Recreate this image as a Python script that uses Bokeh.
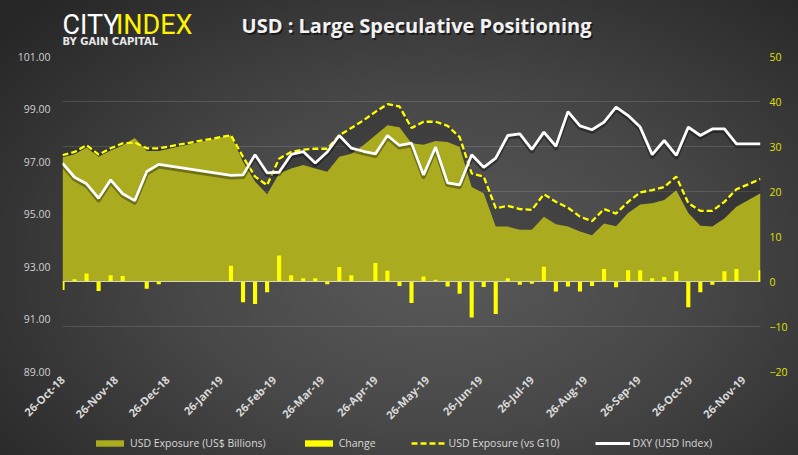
import numpy as np
import pandas as pd
from bokeh.plotting import figure
from bokeh.layouts import column
from bokeh.models import (Range1d, LinearAxis, FixedTicker, Grid, Span, Label, Legend,
                          LegendItem, DatetimeTickFormatter, PrintfTickFormatter, ColumnDataSource)
from bokeh.embed import file_html
from bokeh.resources import INLINE

# ---------------- data ----------------
dates = ["2018-10-26", "2018-11-02", "2018-11-09", "2018-11-16", "2018-11-23", "2018-11-30",
         "2018-12-07", "2018-12-14", "2018-12-21",
         "2019-02-01", "2019-02-08", "2019-02-15", "2019-02-22", "2019-03-01", "2019-03-08",
         "2019-03-15", "2019-03-22", "2019-03-29", "2019-04-05", "2019-04-12", "2019-04-19",
         "2019-04-26", "2019-05-03", "2019-05-10", "2019-05-17", "2019-05-24", "2019-05-31",
         "2019-06-07", "2019-06-14", "2019-06-21", "2019-06-28", "2019-07-05", "2019-07-12",
         "2019-07-19", "2019-07-26", "2019-08-02", "2019-08-09", "2019-08-16", "2019-08-23",
         "2019-08-30", "2019-09-06", "2019-09-13", "2019-09-20", "2019-09-27", "2019-10-04",
         "2019-10-11", "2019-10-18", "2019-10-25", "2019-11-01", "2019-11-08", "2019-11-15",
         "2019-11-22", "2019-11-29", "2019-12-06"]

usd_exposure_bn = [27.6, 28.3, 29.8, 27.7, 29.1, 30.2, 31.9, 29.0, 29.0,
                   32.5, 26.6, 22.2, 19.4, 24.0, 25.1, 25.9, 25.1, 24.4, 27.7, 28.4, 30.3,
                   32.5, 34.7, 34.3, 30.7, 30.4, 31.2, 31.0, 29.9, 21.0, 19.6, 12.2, 12.2,
                   11.5, 11.5, 14.4, 12.7, 12.2, 11.1, 10.3, 12.9, 12.3, 15.2, 17.1, 17.4,
                   18.1, 20.3, 15.2, 12.4, 12.2, 14.0, 16.6, 18.1, 19.6]

change = [-1.9, 0.5, 1.8, -2.1, 1.4, 1.2, 0.0, -1.6, -0.6,
          3.5, -4.6, -5.0, -2.4, 5.8, 1.4, 0.7, 0.7, -0.6, 3.2, 1.4, 0.0,
          4.1, 2.4, -1.0, -4.8, 1.1, 0.4, -1.1, -2.7, -8.0, -1.2, -7.2, 0.7,
          -0.7, -0.5, 3.3, -2.2, -1.1, -2.2, -1.0, 2.8, -1.3, 2.5, 2.5, 0.7,
          1.0, 2.3, -5.7, -2.4, -0.7, 2.3, 2.8, 0.0, 2.5]

usd_exposure_g10 = [28.1, 28.8, 30.3, 28.2, 29.6, 30.7, 30.9, 29.6, 29.6,
                    32.5, 27.7, 23.3, 21.4, 27.3, 28.8, 29.3, 29.5, 29.5, 32.5, 34.1, 35.8,
                    37.7, 39.4, 38.9, 34.1, 35.5, 35.5, 34.6, 32.1, 24.0, 23.3, 16.3, 16.8,
                    16.1, 15.9, 19.4, 17.7, 16.4, 14.4, 13.4, 16.1, 15.1, 17.7, 19.8, 20.3,
                    21.0, 23.3, 17.4, 15.7, 15.7, 17.7, 20.5, 21.6, 22.8]

dxy = [96.94, 96.40, 96.15, 95.60, 96.30, 95.77, 95.51, 96.62, 96.89,
       96.47, 96.49, 97.26, 96.57, 96.59, 97.27, 97.38, 96.94, 97.36, 97.99, 97.51, 97.39,
       97.29, 97.99, 97.61, 97.70, 96.49, 97.55, 96.19, 96.11, 97.26, 96.78, 97.13, 97.99,
       98.05, 97.46, 98.12, 97.58, 98.90, 98.36, 98.21, 98.50, 99.07, 98.75, 98.31, 97.26,
       97.80, 97.23, 98.31, 97.99, 98.24, 98.24, 97.67, 97.67, 97.67]

tick_dates = ["2018-10-26", "2018-11-26", "2018-12-26", "2019-01-26", "2019-02-26",
              "2019-03-26", "2019-04-26", "2019-05-26", "2019-06-26", "2019-07-26",
              "2019-08-26", "2019-09-26", "2019-10-26", "2019-11-26"]
left_ticks = [89, 91, 93, 95, 97, 99, 101]
right_ticks = [-20, -10, 0, 10, 20, 30, 40, 50]

series_names = ["USD Exposure (US$ Billions)", "Change", "USD Exposure (vs G10)", "DXY (USD Index)"]
title_text = "USD : Large Speculative Positioning"


def ms(d):
    return pd.Timestamp(d).value / 1e6


DAY = 86400000.0
x = [ms(d) for d in dates]
src = ColumnDataSource(dict(
    x=x,
    exposure=usd_exposure_bn,
    change=change,
    g10=usd_exposure_g10,
    dxy=dxy,
    dxy_shadow=list(np.array(dxy) - 0.07),
))

FONT = "Open Sans"
W = 798
BL, BR = 62, 38
AREA_COL = "#abab1f"
BAR_COL = "#ffff00"
DASH = dict(line_color="#ffff00", line_width=2.3, line_dash="6 3")
WHITE = dict(line_color="white", line_width=2.8)


def bare_fig(h, xr, yr):
    f = figure(width=W, height=h, x_range=xr, y_range=yr,
               output_backend="svg", toolbar_location=None, title=None,
               x_axis_location=None, y_axis_location=None,
               min_border_left=BL, min_border_right=BR, min_border_top=0, min_border_bottom=0,
               background_fill_alpha=0, border_fill_alpha=0, outline_line_color=None)
    f.xgrid.visible = False
    f.ygrid.visible = False
    return f


# ---------------- header (logo + title) ----------------
HEAD_H = 46
head = bare_fig(HEAD_H, Range1d(0, 1), Range1d(0, 1))
TX, TY = 354, 21
head.add_layout(Label(x=TX + 1.5, y=TY - 1.5, x_units="screen", y_units="screen", text=title_text,
                      text_align="center", text_baseline="alphabetic", text_color="black",
                      text_alpha=0.55, text_font=FONT, text_font_style="bold",
                      text_font_size="20px"))
head.add_layout(Label(x=TX, y=TY, x_units="screen", y_units="screen", text=title_text,
                      text_align="center", text_baseline="alphabetic", text_color="#f2f2f2",
                      text_font=FONT, text_font_style="bold", text_font_size="20px"))
head.add_layout(Label(x=0, y=22, x_units="screen", y_units="screen", text="CITY",
                      text_align="left", text_baseline="alphabetic", text_color="white",
                      text_font="Roboto", text_font_size="27px"))
head.add_layout(Label(x=130, y=22, x_units="screen", y_units="screen", text="INDEX",
                      text_align="right", text_baseline="alphabetic", text_color="#fff200",
                      text_font="Roboto", text_font_size="27px"))
head.add_layout(Label(x=0, y=5.5, x_units="screen", y_units="screen", text="BY GAIN CAPITAL",
                      text_align="left", text_baseline="alphabetic", text_color="#e8e8e8",
                      text_font="DejaVu Sans", text_font_style="bold", text_font_size="10px"))

# ---------------- main chart ----------------
MAIN_H = 384   # page y 46 .. 430 ; frame 56 .. 372
p = figure(width=W, height=MAIN_H, x_axis_type="datetime",
           x_range=Range1d(start=x[0], end=x[-1]),
           y_range=Range1d(left_ticks[0], left_ticks[-1]),
           output_backend="svg", toolbar_location=None, title=None,
           min_border_left=BL, min_border_right=BR, min_border_top=10, min_border_bottom=58,
           background_fill_alpha=0, border_fill_alpha=0, outline_line_color=None)

p.extra_y_ranges = {"right": Range1d(right_ticks[0], right_ticks[-1])}

ax_r = LinearAxis(y_range_name="right", ticker=FixedTicker(ticks=right_ticks))
p.add_layout(ax_r, "right")

p.yaxis[0].ticker = FixedTicker(ticks=left_ticks)
p.yaxis[0].formatter = PrintfTickFormatter(format="%.2f")

fmt = "%d-%b-%y"
p.xaxis.ticker = FixedTicker(ticks=[ms(d) for d in tick_dates])
p.xaxis.formatter = DatetimeTickFormatter(microseconds=fmt, milliseconds=fmt, seconds=fmt,
                                          minsec=fmt, minutes=fmt, hourmin=fmt, hours=fmt,
                                          days=fmt, months=fmt, years=fmt)
p.xaxis.major_label_orientation = np.pi / 4

for ax in [p.xaxis[0], p.yaxis[0], ax_r]:
    ax.axis_line_color = None
    ax.major_tick_line_color = None
    ax.minor_tick_line_color = None
    ax.major_tick_out = 0
    ax.major_tick_in = 0
    ax.major_label_text_font = FONT

p.xaxis.major_label_text_color = "#d9d9d9"
p.xaxis.major_label_text_font_size = "11px"
p.xaxis.major_label_text_font_style = "bold"
p.xaxis.major_label_standoff = 6

p.yaxis[0].major_label_text_color = "#d0d0d0"
p.yaxis[0].major_label_text_font_size = "10.5px"
p.yaxis[0].major_label_standoff = 12

ax_r.major_label_text_color = "#e0e000"
ax_r.major_label_text_font_size = "10.5px"
ax_r.major_label_standoff = 9

p.xgrid.visible = False
p.ygrid.visible = False
p.add_layout(Grid(dimension=1, ticker=ax_r.ticker, y_range_name="right",
                  grid_line_color="white", grid_line_alpha=0.13, grid_line_width=1))

p.varea(x="x", y1=0, y2="g10", source=src, y_range_name="right",
        fill_color="black", fill_alpha=0.17)
p.varea(x="x", y1=0, y2="exposure", source=src, y_range_name="right", fill_color=AREA_COL)
p.add_layout(Span(location=0, dimension="width", y_range_name="right",
                  line_color="#d8d8b0", line_width=1))
p.vbar(x="x", top="change", bottom=0, width=2.4 * DAY, source=src,
       y_range_name="right", fill_color=BAR_COL, line_color=None)
p.line(x="x", y="g10", source=src, y_range_name="right", **DASH)
p.line(x="x", y="dxy_shadow", source=src, line_color="black", line_alpha=0.35,
       line_width=4.5, line_join="round")
p.line(x="x", y="dxy", source=src, **WHITE)

# ---------------- footer (legend) ----------------
# legend proxies use the same data; the strip's y range lies far above all values,
# so only the legend entries are visible here
FOOT_H = 25
foot = bare_fig(FOOT_H, Range1d(start=x[0], end=x[-1]), Range1d(500, 501))
r1 = foot.varea(x="x", y1=0, y2="exposure", source=src, fill_color=AREA_COL)
r2 = foot.vbar(x="x", top="change", bottom=0, width=2.4 * DAY, source=src,
               fill_color=BAR_COL, line_color=None)
r3 = foot.line(x="x", y="g10", source=src, **DASH)
r4 = foot.line(x="x", y="dxy", source=src, **WHITE)
legend = Legend(items=[LegendItem(label=n, renderers=[r]) for n, r in
                       zip(series_names, [r1, r2, r3, r4])],
                orientation="horizontal", location=(30, 5),
                glyph_width=35, glyph_height=8, label_height=12, spacing=35,
                label_standoff=3, padding=0, margin=0, border_line_alpha=0,
                background_fill_alpha=0, label_text_color="#d9d9d9",
                label_text_font=FONT, label_text_font_size="10.5px")
foot.add_layout(legend)

layout = column(head, p, foot, spacing=0)
layout.styles = {"background": "radial-gradient(ellipse 70% 80% at 55% 58%, #5a5a5a 0%, #484848 45%, #272727 100%)"}

html = file_html(layout, INLINE)
html = html.replace("</head>", "<style>body{background:#2a2a2a;}</style></head>", 1)
open("out.html", "w").write(html)
